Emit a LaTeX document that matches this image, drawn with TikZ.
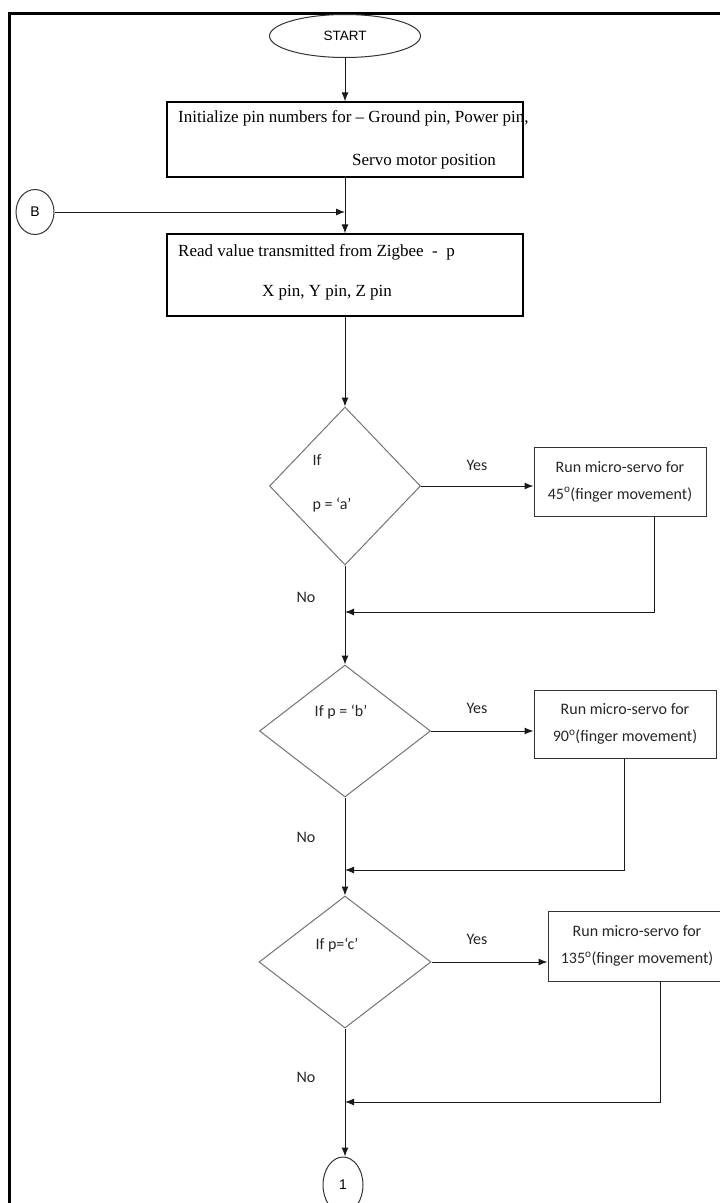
\documentclass[tikz,border=0pt]{standalone}
\usepackage{fontspec}
\setmainfont{Liberation Serif}
\newfontfamily\calfont{Carlito}
\newfontfamily\arialfont{Liberation Sans}
\usetikzlibrary{shapes.geometric,arrows.meta}

\begin{document}
\begin{tikzpicture}[x=1pt,y=-1pt,>={Latex[length=9pt,width=7pt]},font=\fontsize{17}{20}\selectfont,
		procbox/.style={draw=black,line width=1.2pt,rectangle,inner sep=0pt},
		servobox/.style={draw=black!80,line width=1pt,rectangle,inner sep=0pt,align=center,
			font=\calfont\fontsize{16}{27}\selectfont,text=black!85},
		decision/.style={draw=black!55,line width=1pt,diamond,inner sep=0pt},
		connector/.style={draw=black!80,line width=1pt,ellipse,inner sep=0pt,font=\arialfont\fontsize{14}{16}\selectfont},
		txt/.style={inner sep=0pt},
		lbl/.style={inner sep=0pt,font=\calfont\fontsize{16}{19}\selectfont,text=black!85},
		flow/.style={->,line width=1pt,color=black!90}]
	\useasboundingbox (0,0) rectangle (720,1203);
	\clip (0,0) rectangle (720,1203);
	% outer frame
	\draw[line width=3pt] (9,1215) -- (9,13) -- (735,13);

	% start, init, read
	\node[connector,minimum width=151pt,minimum height=43pt,font=\arialfont\fontsize{13.5}{16}\selectfont] (start) at (345,36) {START};
	\node[procbox,minimum width=356pt,minimum height=75pt] (init) at (345,139.5) {};
	\node[txt,anchor=west] (initA) at (178,118) {Initialize pin numbers for -- Ground pin, Power pin,};
	\node[txt,anchor=west] (initB) at (352,162) {Servo motor position};
	\node[connector,minimum width=38pt,minimum height=45pt] (bconn) at (35,212) {B};
	\node[procbox,minimum width=356pt,minimum height=82pt] (read) at (345,275) {};
	\node[txt,anchor=west] (readA) at (178,252) {Read value transmitted from Zigbee\ \ -\ \ p};
	\node[txt] (readB) at (327,293) {X pin, Y pin, Z pin};

	% decisions
	\node[decision,minimum width=151pt,minimum height=158pt] (dec1) at (345,486) {};
	\node[lbl] (dec1A) at (317,460) {If};
	\node[lbl] (dec1B) at (332,505) {p = ‘a’};
	\node[decision,minimum width=171pt,minimum height=132pt] (dec2) at (345,731) {};
	\node[lbl] (dec2A) at (341,712) {If p = ‘b’};
	\node[decision,minimum width=172pt,minimum height=132pt] (dec3) at (345,962) {};
	\node[lbl] (dec3A) at (337,945) {If p=‘c’};

	% servo boxes
	\node[servobox,minimum width=172pt,minimum height=69pt] (serv1) at (620,481.5) {Run micro-servo for\\45\textsuperscript{o}(finger movement)};
	\node[servobox,minimum width=182pt,minimum height=68pt] (serv2) at (625,724) {Run micro-servo for\\90\textsuperscript{o}(finger movement)};
	\node[servobox,minimum width=178pt,minimum height=70pt] (serv3) at (637,946) {Run micro-servo for\\135\textsuperscript{o}(finger movement)};

	\node[connector,minimum width=40pt,minimum height=56pt] (conn1) at (343,1185) {1};

	\foreach \yy [count=\i] in {465,708,939}{
		\node[lbl] (yes\i) at (477,\yy) {Yes};
	}
	\foreach \yy [count=\i] in {597,837,1077}{
		\node[lbl] (no\i) at (306,\yy) {No};
	}

	% connectors
	\coordinate (bjoin) at (345,212);
	\coordinate (m1) at (345,612);
	\coordinate (m2) at (345,870);
	\coordinate (m3) at (345,1102);
	\draw[flow] (start) -- (init);
	\draw[flow] (init) -- (read);
	\draw[flow] (bconn) -- (bjoin);
	\draw[flow] (read) -- (dec1);
	\draw[flow] (dec1) -- (dec2);
	\draw[flow] (dec2) -- (dec3);
	\draw[flow] (dec3.south) -- (dec3.south |- conn1.north);
	\draw[flow] (dec1.east) -- (dec1.east -| serv1.west);
	\draw[flow] (dec2.east) -- (dec2.east -| serv2.west);
	\draw[flow] (dec3.east) -- (dec3.east -| serv3.west);
	\draw[flow] ([xshift=-52pt]serv1.south east) |- (m1);
	\draw[flow] ([xshift=-92pt]serv2.south east) |- (m2);
	\draw[flow] ([xshift=113pt]serv3.south west) |- (m3);
\end{tikzpicture}
\end{document}
